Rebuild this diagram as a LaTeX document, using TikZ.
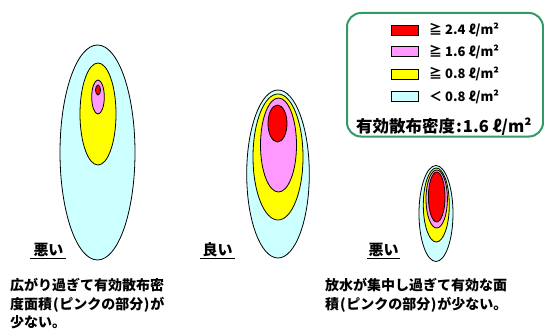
\documentclass[tikz,border=0pt]{standalone}
\usepackage{fontspec}
\setmainfont{Noto Sans CJK JP}
\definecolor{cyanfill}{HTML}{CCFFFF}
\definecolor{yelfill}{HTML}{FFFF00}
\definecolor{pinkfill}{HTML}{FF99FF}
\definecolor{redfill}{HTML}{FF0000}
\definecolor{legendgreen}{HTML}{339966}
\tikzset{
  zone/.style={draw=black, line width=0.8pt},
  cz/.style={zone, fill=cyanfill},
  yz/.style={zone, fill=yelfill},
  pz/.style={zone, fill=pinkfill},
  rz/.style={zone, fill=redfill},
  swatch/.style={draw=black, line width=0.8pt, minimum width=27pt, minimum height=10pt, inner sep=0pt},
  legtext/.style={anchor=west, inner sep=0pt, font=\fontsize{13}{15}\selectfont\bfseries},
  lbl/.style={inner sep=0pt, font=\fontsize{15}{17}\selectfont\bfseries},
  note/.style={anchor=west, inner sep=0pt, font=\fontsize{14}{20}\selectfont\bfseries},
}
\newcommand{\lp}{\kern1pt(\kern0.5pt}
\newcommand{\rp}{\kern0.5pt)\kern1pt}
\begin{document}
\begin{tikzpicture}[x=1pt,y=-1pt]
\useasboundingbox (0,0) rectangle (544,329);
% left ellipses
\draw[cz] (97.5,152.5) ellipse [x radius=37.5, y radius=107.5];
\draw[yz] (98,114) ellipse [x radius=18, y radius=51];
\draw[pz] (98,97) ellipse [x radius=6.3, y radius=17];
\draw[rz] (98,90) ellipse [x radius=2.5, y radius=5];
% middle ellipses
\draw[cz] (278,174) ellipse [x radius=31.3, y radius=84];
\draw[yz] (278,157) ellipse [x radius=25, y radius=63];
\draw[pz] (278.5,145) ellipse [x radius=18, y radius=47];
\draw[rz] (277.5,123.5) ellipse [x radius=9.5, y radius=18.5];
% right ellipses
\draw[cz] (436,213.5) ellipse [x radius=17, y radius=48];
\draw[yz] (436.3,205) ellipse [x radius=13, y radius=37];
\draw[pz] (436.7,199) ellipse [x radius=10.7, y radius=29];
\draw[rz] (436.7,197) ellipse [x radius=8.3, y radius=25];
% legend
\draw[legendgreen, line width=2pt, rounded corners=14pt] (347,13) rectangle (543,136.5);
\node[swatch, fill=redfill] (s1) at (405.3,30) {};
\node[swatch, fill=pinkfill] (s2) at (405.3,51.7) {};
\node[swatch, fill=yelfill] (s3) at (405.3,74) {};
\node[swatch, fill=cyanfill] (s4) at (405.3,96.7) {};
\node[legtext] (t1) at (429,30) {≧ 2.4 ℓ/m²};
\node[legtext] (t2) at (429,51.7) {≧ 1.6 ℓ/m²};
\node[legtext] (t3) at (429,74) {≧ 0.8 ℓ/m²};
\node[legtext] (t4) at (429,96.7) {＜ 0.8 ℓ/m²};
\node[anchor=west, inner sep=0pt, font=\fontsize{16.5}{19}\selectfont\bfseries] (dens) at (356,127) {有効散布密度\kern1pt:\kern1pt1.6 ℓ/m²};
% labels
\node[lbl] (bad1) at (48.5,250) {悪い};
\draw[line width=0.8pt] (30,258.5) -- (66,258.5);
\node[lbl] (good) at (217.5,250) {良い};
\draw[line width=0.8pt] (200,258.5) -- (235,258.5);
\node[lbl] (bad2) at (383.5,250) {悪い};
\draw[line width=0.8pt] (367,258.5) -- (400,258.5);
% notes
\node[note] (n1) at (10,285) {広がり過ぎて有効散布密};
\node[note] (n2) at (10,305) {度面積\lp ピンクの部分\rp が};
\node[note] (n3) at (10,322) {少ない。};
\node[note] (n4) at (325,285) {放水が集中し過ぎて有効な面};
\node[note] (n5) at (325,305) {積\lp ピンクの部分\rp が少ない。};
\end{tikzpicture}
\end{document}
